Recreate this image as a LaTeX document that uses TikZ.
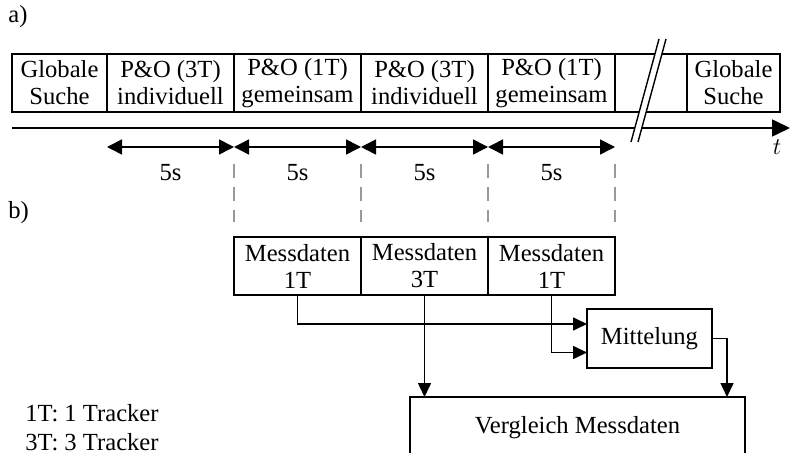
\documentclass[tikz,border=0pt]{standalone}
\usepackage{fontspec}
\setmainfont{Liberation Serif}
\usepackage{xcolor}
\definecolor{gr}{rgb}{0.6,0.6,0.6}
\usepackage{tikz}
\usetikzlibrary{arrows.meta, positioning, calc}
\tikzstyle{block} = [draw, rectangle, line width=0.8pt, outer sep=0pt, inner sep=0pt, minimum height=29pt, align=center]
\tikzstyle{dim} = [{Triangle[length=7.5pt,width=7.5pt]}-{Triangle[length=7.5pt,width=7.5pt]}, line width=0.8pt]
\tikzstyle{flow} = [-{Triangle[length=7pt,width=6.5pt]}, line width=0.8pt]
\tikzstyle{guide} = [gr, line width=0.7pt, dash pattern=on 7pt off 4.5pt]

\begin{document}
\begin{tikzpicture}[x=0.5pt, y=0.5pt, font=\fontsize{12.3}{13.5}\selectfont]
    \useasboundingbox (0,0) rectangle (790,-453);

    % labels
    \node[anchor=west, inner sep=0pt] (la) at (8,-17) {a)};
    \node[anchor=west, inner sep=0pt] (lb) at (8,-213) {b)};

    % time line segments
    \node[block, minimum width=47.5pt, anchor=west] (gs1) at (12,-83) {Globale\\Suche};
    \node[block, minimum width=63.5pt, right=0pt of gs1] (po1) {P\&O (3T)\\individuell};
    \node[block, minimum width=63.5pt, right=0pt of po1] (po2) {P\&O (1T)\\gemeinsam};
    \node[block, minimum width=63.5pt, right=0pt of po2] (po3) {P\&O (3T)\\individuell};
    \node[block, minimum width=63.5pt, right=0pt of po3] (po4) {P\&O (1T)\\gemeinsam};
    \node[block, minimum width=36pt, right=0pt of po4] (gap) {};
    \node[block, minimum width=46.5pt, right=0pt of gap] (gs2) {Globale\\Suche};

    % time axis
    \coordinate (ax0) at ($(gs1.south west)+(0,-16)$);
    \coordinate (ax1) at (790,-128);
    \draw[-{Triangle[length=9pt,width=8.5pt]}, line width=0.8pt] (ax0) -- (ax1);
    \node (t) at (777,-147) {$t$};

    % break
    \fill[white] (631,-142) -- (638,-142) -- (666,-39) -- (659,-39) -- cycle;
    \draw[line width=0.7pt] (631,-142) -- (659,-39);
    \draw[line width=0.7pt] (638,-142) -- (666,-39);

    % durations
    \draw[dim] ($(po1.south west)+(0,-35)$) -- ($(po1.south east)+(0,-35)$);
    \draw[dim] ($(po2.south west)+(0,-35)$) -- ($(po2.south east)+(0,-35)$);
    \draw[dim] ($(po3.south west)+(0,-35)$) -- ($(po3.south east)+(0,-35)$);
    \draw[dim] ($(po4.south west)+(0,-35)$) -- ($(po4.south east)+(0,-35)$);
    \node (d1) at ($(po1.south)+(0,-61)$) {5s};
    \node (d2) at ($(po2.south)+(0,-61)$) {5s};
    \node (d3) at ($(po3.south)+(0,-61)$) {5s};
    \node (d4) at ($(po4.south)+(0,-61)$) {5s};

    % measured data
    \node[block, minimum width=63.5pt, below=62.5pt of po2] (md1) {Messdaten\\1T};
    \node[block, minimum width=63.5pt, right=0pt of md1] (md2) {Messdaten\\3T};
    \node[block, minimum width=63.5pt, right=0pt of md2] (md3) {Messdaten\\1T};

    % guide lines
    \draw[guide] ($(po2.south west)+(0,-52)$) -- ($(md1.north west)+(0,15)$);
    \draw[guide] ($(po3.south west)+(0,-52)$) -- ($(md2.north west)+(0,15)$);
    \draw[guide] ($(po4.south west)+(0,-52)$) -- ($(md3.north west)+(0,15)$);
    \draw[guide] ($(po4.south east)+(0,-52)$) -- ($(md3.north east)+(0,15)$);

    % processing
    \node[block, minimum width=62.5pt, minimum height=29.5pt] (mit) at (649.5,-338.5) {Mittelung};
    \node[block, minimum width=167.5pt, minimum height=31pt] (vgl) at (577.5,-428) {Vergleich Messdaten};

    \draw[flow] (md1.south) |- ($(mit.west)+(0,14.5)$);
    \draw[flow] (md3.south) |- ($(mit.west)+(0,-14)$);
    \draw[flow] (md2.south) -- (md2.south |- vgl.north);
    \draw[flow] (mit.east) -| ($(vgl.north east)+(-18,0)$);

    % legend
    \node[anchor=west, inner sep=0pt] (lg1) at (25,-413) {1T: 1 Tracker};
    \node[anchor=west, inner sep=0pt] (lg2) at (25,-442) {3T: 3 Tracker};
\end{tikzpicture}
\end{document}
